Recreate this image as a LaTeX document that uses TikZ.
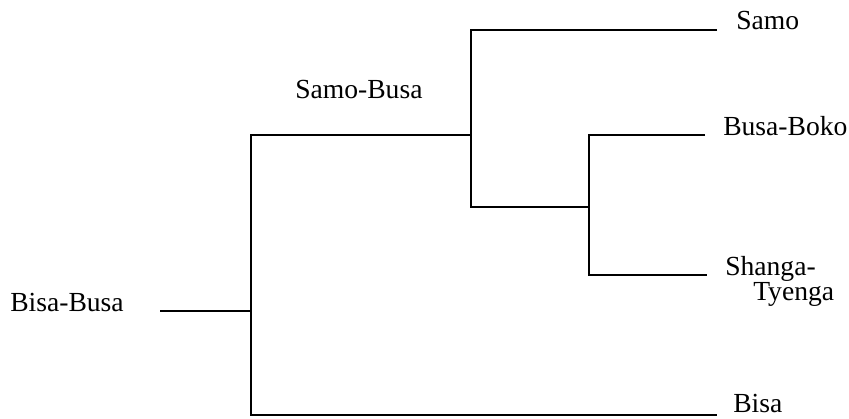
\documentclass[tikz,border=0pt]{standalone}
\usepackage{fontspec}
\setmainfont{Liberation Serif}
\begin{document}
\begin{tikzpicture}[x=0.75pt,y=-0.75pt,
  lbl/.style={anchor=base west,inner sep=0pt,font=\fontsize{20.7}{25}\selectfont},
  branch/.style={line width=1.3pt,black}]
\useasboundingbox (0,0) rectangle (849,418);
% labels
\node[lbl] (bisabusa) at (10,311) {Bisa-Busa};
\node[lbl] (samobusa) at (295,98) {Samo-Busa};
\node[lbl] (samo) at (736,29) {Samo};
\node[lbl] (busaboko) at (723,135) {Busa-Boko};
\node[lbl] (shanga) at (725,275) {Shanga-};
\node[lbl] (tyenga) at (753,300) {Tyenga};
\node[lbl] (bisa) at (733,412) {Bisa};
% junctions and tips
\coordinate (r0) at (160,311);
\coordinate (n1) at (251,311);
\coordinate (n2) at (471,135);
\coordinate (n3) at (589,207);
\coordinate (samoEnd) at (717,30);
\coordinate (bokoEnd) at (705,135);
\coordinate (shangaEnd) at (707,275);
\coordinate (bisaEnd) at (717,415);
% branches
\draw[branch] (r0) -- (n1);
\draw[branch] (n2) -| (n1) |- (bisaEnd);
\draw[branch] (samoEnd) -| (n2) |- (n3);
\draw[branch] (bokoEnd) -| (n3) |- (shangaEnd);
\end{tikzpicture}
\end{document}
